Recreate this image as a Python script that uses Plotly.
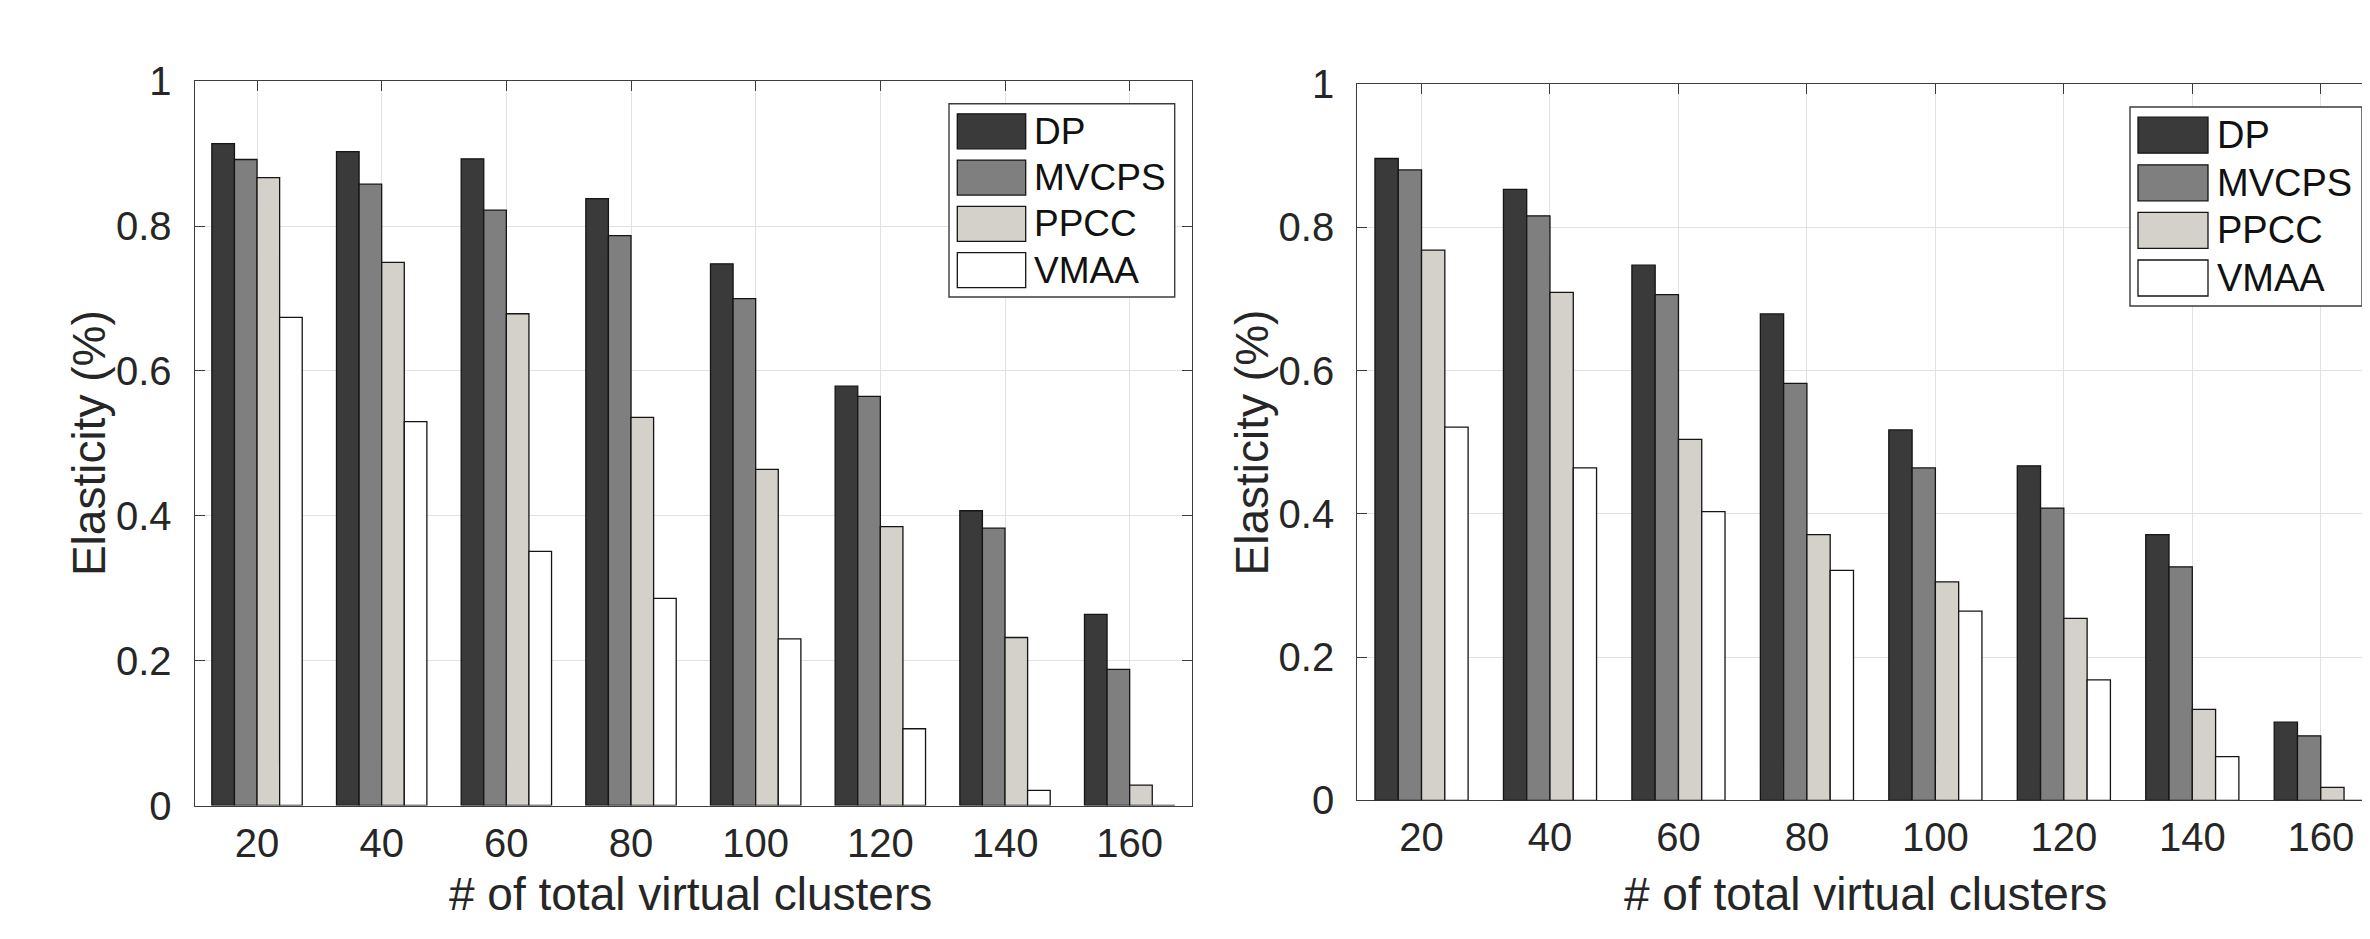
import plotly.graph_objects as go

W, H = 2370, 939

# ---------------- data ----------------
categories = ["20", "40", "60", "80", "100", "120", "140", "160"]
series_names = ["DP", "MVCPS", "PPCC", "VMAA"]
series_colors = ["#3a3a3a", "#7f7f7f", "#d4d0ca", "#ffffff"]

# left panel
dp_left = [0.914, 0.903, 0.893, 0.838, 0.748, 0.579, 0.407, 0.264]
mvcps_left = [0.892, 0.858, 0.822, 0.787, 0.700, 0.565, 0.383, 0.188]
ppcc_left = [0.867, 0.750, 0.679, 0.536, 0.464, 0.385, 0.232, 0.028]
vmaa_left = [0.674, 0.530, 0.351, 0.286, 0.230, 0.106, 0.021, 0.0]

# right panel
dp_right = [0.896, 0.853, 0.747, 0.679, 0.517, 0.467, 0.371, 0.109]
mvcps_right = [0.880, 0.816, 0.706, 0.582, 0.464, 0.408, 0.326, 0.090]
ppcc_right = [0.768, 0.709, 0.504, 0.371, 0.305, 0.254, 0.127, 0.018]
vmaa_right = [0.521, 0.464, 0.403, 0.321, 0.264, 0.168, 0.061, 0.0]

x_title = "# of total virtual clusters"
y_title = "Elasticity (%)"
y_tickvals = [0, 0.2, 0.4, 0.6, 0.8, 1]
y_ticktext = ["0", "0.2", "0.4", "0.6", "0.8", "1"]

left_series = [dp_left, mvcps_left, ppcc_left, vmaa_left]
right_series = [dp_right, mvcps_right, ppcc_right, vmaa_right]

# ---------------- helpers ----------------
def px(p):
    return p / W

def py(p):
    return 1 - p / H

FONT = "Liberation Sans, Arial, Helvetica, sans-serif"
TXT = "#262626"
AXC = "#3c3c3c"
GRID = "#e2e2e2"

fig = go.Figure()
for name, color, vals in zip(series_names, series_colors, left_series):
    fig.add_trace(go.Bar(x=categories, y=vals, name=name, xaxis="x", yaxis="y",
                         marker=dict(color=color, line=dict(color="#151515", width=1.3)),
                         showlegend=False))
for name, color, vals in zip(series_names, series_colors, right_series):
    fig.add_trace(go.Bar(x=categories, y=vals, name=name, xaxis="x2", yaxis="y2",
                         marker=dict(color=color, line=dict(color="#151515", width=1.3)),
                         showlegend=False))

# panel geometry (pixels)
L1, R1, T1, B1 = 186.7, 1184.0, 73.3, 797.5
L2, T2, B2 = 1349.3, 76.0, 792.3
R2_full = 2377.0  # right panel extends slightly beyond the page edge
x2_max = -0.5 + 8 * (W - L2) / (R2_full - L2)

TICK_SIZE = 40
TITLE_SIZE = 46

common_x = dict(type="category", showline=True, linecolor=AXC, linewidth=1.3,
                ticks="inside", ticklen=10, tickwidth=1.2, tickcolor=AXC,
                showgrid=True, gridcolor=GRID, gridwidth=1, zeroline=False,
                tickfont=dict(size=TICK_SIZE, color=TXT, family=FONT),
                ticklabelstandoff=2, layer="below traces", automargin=False)
common_y = dict(range=[0, 1], tickvals=y_tickvals, ticktext=y_ticktext,
                showline=True, linecolor=AXC, linewidth=1.3,
                ticks="inside", ticklen=10, tickwidth=1.2, tickcolor=AXC,
                showgrid=True, gridcolor=GRID, gridwidth=1, zeroline=False,
                tickfont=dict(size=TICK_SIZE, color=TXT, family=FONT),
                ticklabelstandoff=14, layer="below traces", automargin=False)

fig.update_layout(
    width=W, height=H,
    margin=dict(l=0, r=0, t=0, b=0),
    paper_bgcolor="white", plot_bgcolor="white",
    font=dict(family=FONT, color=TXT),
    barmode="group", bargap=0.275, bargroupgap=0,
    xaxis=dict(common_x, domain=[px(L1), px(R1)], anchor="y", range=[-0.5, 7.5], mirror="ticks"),
    yaxis=dict(common_y, domain=[py(B1), py(T1)], anchor="x", mirror="ticks"),
    xaxis2=dict(common_x, domain=[px(L2), 1.0], anchor="y2", range=[-0.5, x2_max], mirror="ticks"),
    yaxis2=dict(common_y, domain=[py(B2), py(T2)], anchor="x2", mirror=False),
)

annotations = []
shapes = []

# axis titles
for cx, cy in [((L1 + R1) / 2 - 3, 886), ((L2 + R2_full) / 2 - 6, 886)]:
    annotations.append(dict(text=x_title, x=px(cx), y=py(cy), xref="paper", yref="paper",
                            xanchor="center", yanchor="middle", showarrow=False,
                            font=dict(size=TITLE_SIZE, color=TXT, family=FONT)))
for cx, cy in [(L1 - 105, (T1 + B1) / 2), (L2 - 105, (T2 + B2) / 2)]:
    annotations.append(dict(text=y_title, x=px(cx), y=py(cy), xref="paper", yref="paper",
                            xanchor="center", yanchor="middle", textangle=-90, showarrow=False,
                            font=dict(size=TITLE_SIZE, color=TXT, family=FONT)))

# legends (one per panel)
legend_specs = [
    dict(box=(941, 95.7, 1166.7, 289), sw=(949.3, 1017.7), c0=123.3, step=46.3, hh=17.5, tx=1024, fs=37),
    dict(box=(2122, 99, 2354, 298), sw=(2130, 2200), c0=127.2, step=47.6, hh=18, tx=2207, fs=38),
]
for spec in legend_specs:
    x0, y0, x1, y1 = spec["box"]
    shapes.append(dict(type="rect", xref="paper", yref="paper",
                       x0=px(x0), x1=px(x1), y0=py(y1), y1=py(y0),
                       line=dict(color=AXC, width=1.4), fillcolor="white", layer="above"))
    for i, (name, color) in enumerate(zip(series_names, series_colors)):
        cy = spec["c0"] + i * spec["step"]
        shapes.append(dict(type="rect", xref="paper", yref="paper",
                           x0=px(spec["sw"][0]), x1=px(spec["sw"][1]),
                           y0=py(cy + spec["hh"]), y1=py(cy - spec["hh"]),
                           line=dict(color="#151515", width=1.3), fillcolor=color, layer="above"))
        annotations.append(dict(text=name, x=px(spec["tx"]), y=py(cy), xref="paper", yref="paper",
                                xanchor="left", yanchor="middle", showarrow=False,
                                font=dict(size=spec["fs"], color="#111111", family=FONT)))

fig.update_layout(annotations=annotations, shapes=shapes)
fig.write_html("out.html")
